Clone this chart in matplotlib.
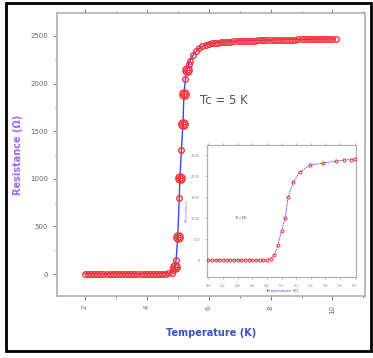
import matplotlib
matplotlib.use("Agg")
import matplotlib.pyplot as plt
from matplotlib.patches import Rectangle
from matplotlib.ticker import MultipleLocator

# ---- main data ----
temp_main = [2.0, 2.1, 2.2, 2.3, 2.4, 2.5, 2.6, 2.7, 2.8, 2.9, 3.0, 3.1, 3.2, 3.3, 3.4,
             3.5, 3.6, 3.7, 3.8, 3.9, 4.0, 4.1, 4.2, 4.3, 4.4, 4.5, 4.6, 4.7, 4.8,
             4.85, 4.9, 4.95, 5.0, 5.05, 5.07, 5.12, 5.17, 5.2, 5.25, 5.3, 5.35, 5.4,
             5.5, 5.6, 5.7, 5.8, 5.9,
             6.0, 6.1, 6.2, 6.3, 6.4, 6.5, 6.6, 6.7, 6.8, 6.9, 7.0, 7.1, 7.2, 7.3,
             7.4, 7.5, 7.6, 7.7, 7.8, 7.9, 8.0, 8.1, 8.2, 8.3, 8.4, 8.5, 8.6, 8.7,
             8.8, 8.9, 9.0, 9.1, 9.2, 9.3, 9.4, 9.5, 9.6, 9.7, 9.8, 9.9, 10.0, 10.1]
res_main = [2, 1, 3, 2, 2, 1, 3, 2, 2, 3, 1, 2, 3, 2, 2,
            3, 2, 1, 2, 3, 2, 2, 3, 2, 3, 4, 5, 8, 15,
            40, 75, 150, 388, 800, 1006, 1300, 1580, 1887, 2050, 2140, 2200, 2240,
            2300, 2340, 2370, 2390, 2405,
            2415, 2420, 2425, 2429, 2432, 2435, 2438, 2440, 2442, 2444, 2446, 2447, 2448, 2449,
            2450, 2451, 2452, 2453, 2454, 2455, 2456, 2456, 2457, 2458, 2458, 2459, 2460, 2460,
            2461, 2462, 2462, 2463, 2464, 2464, 2465, 2466, 2466, 2467, 2468, 2468, 2469, 2470]
# highlighted transition points (larger circles)
temp_hi = [4.9, 5.0, 5.07, 5.17, 5.2, 5.3]
res_hi = [75, 388, 1006, 1580, 1887, 2140]

x_ticks = [2, 4, 6, 8, 10]
y_ticks = [0, 500, 1000, 1500, 2000, 2500]

# ---- inset data ----
temp_in = [4.0, 4.05, 4.1, 4.15, 4.2, 4.25, 4.3, 4.35, 4.4, 4.45, 4.5, 4.55, 4.6, 4.65,
           4.7, 4.75, 4.8, 4.85, 4.9, 4.95, 5.0, 5.05, 5.09, 5.16, 5.25, 5.39, 5.57,
           5.75, 5.85, 5.95, 6.0]
res_in = [0, 5, 0, 3, 0, 4, 2, 0, 3, 0, 2, 4, 0, 3, 2, 5, 8, 40, 120, 357, 700, 1000,
          1500, 1857, 2095, 2260, 2310, 2357, 2380, 2395, 2400]
x_ticks_in = [4.0, 4.2, 4.4, 4.6, 4.8, 5.0, 5.2, 5.4, 5.6, 5.8, 6.0]
y_ticks_in = [0, 500, 1000, 1500, 2000, 2500]

W, H = 373, 358
fig = plt.figure(figsize=(W / 100, H / 100), dpi=100)
fig.patch.set_facecolor("white")

red = "#ff3030"
blue = "#3b45ff"
gray = "#666666"
spine_c = "#b0b0b0"

ax = fig.add_axes([57 / W, 1 - 296 / H, (365 - 57) / W, (296 - 13) / H])
ax.plot(temp_main, res_main, color=blue, lw=1.0, zorder=2)
ax.plot(temp_main, res_main, "o", mfc="none", mec=red, ms=4, mew=1.0, zorder=3)
ax.plot(temp_hi, res_hi, "o", mfc="none", mec=red, ms=6.5, mew=1.2, zorder=4)
ax.plot(temp_hi, res_hi, "+", color=red, ms=4, mew=0.8, zorder=5)
ax.set_xlim(1.1, 11.05)
ax.set_ylim(-230, 2740)
ax.set_xticks(x_ticks)
ax.set_yticks(y_ticks)
ax.xaxis.set_minor_locator(MultipleLocator(1))
ax.yaxis.set_minor_locator(MultipleLocator(250))
ax.tick_params(which="both", direction="out", colors=gray, labelsize=5,
               top=True, right=False, width=0.6)
ax.tick_params(which="major", length=3)
ax.tick_params(which="minor", length=1.5)
for lab in ax.get_xticklabels():
    lab.set_rotation(90)
for s in ax.spines.values():
    s.set_color(spine_c)
    s.set_linewidth(1.2)
ax.set_xlabel("Temperature (K)", color="#3a4fd0", fontsize=7, fontweight="bold", labelpad=10)
ax.set_ylabel("Resistance (Ω)", color="#a066ff", fontsize=7, fontweight="bold", labelpad=5)
ax.text(5.72, 1824, "Tc = 5 K", color="#555555", fontsize=8.5, va="center", ha="left")

# ---- inset ----
axi = fig.add_axes([207 / W, 1 - 277 / H, (356 - 207) / W, (277 - 145) / H])
axi.plot(temp_in, res_in, color=blue, lw=0.6, ls=(0, (2, 1)), zorder=2)
axi.plot(temp_in, res_in, "o", mfc="none", mec=red, ms=2.2, mew=0.7, zorder=3)
axi.set_xlim(3.98, 6.02)
axi.set_ylim(-400, 2740)
axi.set_xticks(x_ticks_in)
axi.set_yticks(y_ticks_in)
axi.tick_params(which="both", direction="out", colors="#888888", labelsize=2.5,
                length=1.5, width=0.4, top=True)
for s in axi.spines.values():
    s.set_color(spine_c)
    s.set_linewidth(0.9)
axi.set_xlabel("Temperature (K)", color="#3a4fd0", fontsize=3, labelpad=1)
axi.set_ylabel("Resistance", color="#a066ff", fontsize=3, labelpad=2)
axi.text(4.35, 1000, "Tc=5K", color="#555555", fontsize=3, va="center")

# outer frame
fig.add_artist(Rectangle((6 / W, 1 - 351 / H), (371 - 6) / W, (351 - 3) / H,
                         transform=fig.transFigure, fill=False, ec="black", lw=2))

fig.savefig("out.png", dpi=100, facecolor="white")
